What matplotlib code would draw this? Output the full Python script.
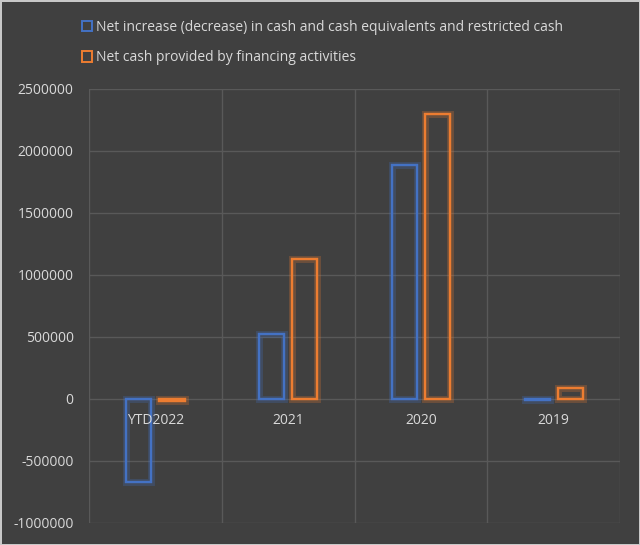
import matplotlib
matplotlib.use('Agg')
import matplotlib.pyplot as plt
import matplotlib.patheffects as pe
from matplotlib.patches import Patch
import numpy as np

categories = ['YTD2022', '2021', '2020', '2019']
net_increase = [-670000, 525000, 1890000, -10000]
net_financing = [-20000, 1130000, 2300000, 85000]
series_names = ['Net increase (decrease) in cash and cash equivalents and restricted cash',
                'Net cash provided by financing activities']
yticks = [-1000000, -500000, 0, 500000, 1000000, 1500000, 2000000, 2500000]

bg = '#404040'
txt = '#d9d9d9'
grid = '#595959'
blue = '#4472c4'
orange = '#ed7d31'

plt.rcParams['font.family'] = ['Open Sans', 'DejaVu Sans']

fig = plt.figure(figsize=(6.4, 5.45), dpi=100, facecolor=bg)
fig.patch.set_edgecolor('#c8c8c8')
fig.patch.set_linewidth(2)
ax = fig.add_axes([0.139, 0.0404, 0.830, 0.7963], facecolor=bg)

x = np.arange(len(categories))
w = 0.19
off = 0.125
for vals, col, sgn in [(net_increase, blue, -1), (net_financing, orange, 1)]:
    bars = ax.bar(x + sgn * off, vals, width=w, facecolor='none', edgecolor=col, linewidth=1.6, zorder=3)
    for b in bars:
        b.set_path_effects([pe.withStroke(linewidth=5, foreground=col, alpha=0.25), pe.Normal()])

ax.set_xlim(-0.5, len(categories) - 0.5)
ax.set_ylim(-1000000, 2500000)
ax.set_yticks(yticks)
ax.set_yticklabels([str(v) for v in yticks])
ax.set_xticks(x)
ax.set_xticklabels([])
ax.set_xticks(np.arange(len(categories) + 1) - 0.5, minor=True)
ax.tick_params(axis='both', which='both', length=0, colors=txt, labelsize=10)
ax.tick_params(axis='y', pad=11)
ax.grid(True, axis='y', which='major', color=grid, linewidth=1, zorder=0)
ax.grid(True, axis='x', which='minor', color=grid, linewidth=1, zorder=0)
ax.grid(False, axis='x', which='major')
for s in ax.spines.values():
    s.set_visible(False)

for i, c in enumerate(categories):
    ax.annotate(c, (i, 0), xytext=(0, -15.5), textcoords='offset points',
                ha='center', va='center', color=txt, fontsize=10, zorder=4)

handles = [Patch(facecolor='none', edgecolor=blue, linewidth=1.4),
           Patch(facecolor='none', edgecolor=orange, linewidth=1.4)]
leg = fig.legend(handles, series_names, loc='upper left', bbox_to_anchor=(0.108, 0.986),
                 frameon=False, fontsize=10, labelcolor=txt, handlelength=0.75, handleheight=0.75,
                 handletextpad=0.3, labelspacing=1.1)

fig.savefig('out.png', dpi=100, facecolor=bg, edgecolor=fig.patch.get_edgecolor())
